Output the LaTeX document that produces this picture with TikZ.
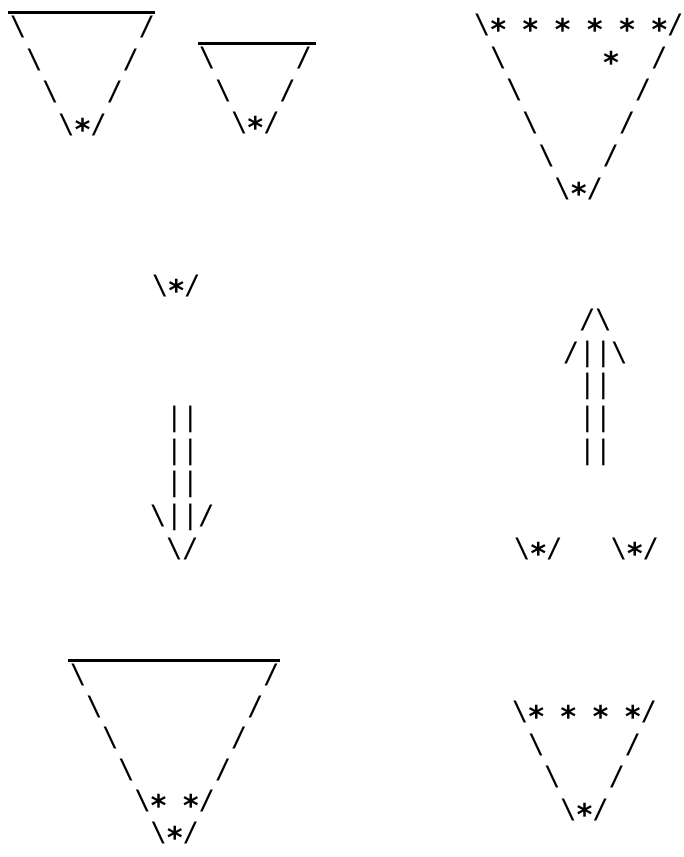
\documentclass[tikz,border=0pt]{standalone}
\usepackage{fontspec}
\usepackage{tikz}
\newfontfamily\asciifont{DejaVu Sans Mono}
\newcommand\bsl{\textbackslash}
\newcommand\astr{\makebox[16.1pt]{\raisebox{-7pt}[0pt][0pt]{\bfseries\fontsize{30}{30}\selectfont *}}}

\begin{document}
\begin{tikzpicture}[
    x=1pt, y=-1pt,
    glyphs/.style={font=\asciifont\fontsize{26.75}{32}\selectfont,
                   inner sep=0pt, anchor=base west,
                   xshift=-8.05pt, yshift=-8.5pt},
    grid/.style={x=16.1pt, y=-32.7pt},
    lid/.style={line width=3pt}
  ]
  \useasboundingbox (0,0) rectangle (684,857);

  % --- Arriba izquierda: dos conos con tapa ---
  \begin{scope}[shift={(18pt,-27pt)}, grid]
    \node[glyphs] (bigA1) at (0,0) {\bsl~~~~~~~/};
    \node[glyphs] (bigA2) at (1,1) {\bsl~~~~~/};
    \node[glyphs] (bigA3) at (2,2) {\bsl~~~/};
    \node[glyphs] (bigA4) at (3,3) {\bsl\astr/};
  \end{scope}
  \draw[lid] (8,12) -- (155,12);

  \begin{scope}[shift={(207pt,-58pt)}, grid]
    \node[glyphs] (smlB1) at (0,0) {\bsl~~~~~/};
    \node[glyphs] (smlB2) at (1,1) {\bsl~~~/};
    \node[glyphs] (smlB3) at (2,2) {\bsl\astr/};
  \end{scope}
  \draw[lid] (198,43) -- (316,43);

  % --- Arriba derecha: cono lleno ---
  \begin{scope}[shift={(482pt,-25pt)}, grid]
    \node[glyphs] (fullC1) at (0,0) {\bsl\astr~\astr~\astr~\astr~\astr~\astr/};
    \node[glyphs] (fullC2) at (1,1) {\bsl~~~~~~\astr~~/};
    \node[glyphs] (fullC3) at (2,2) {\bsl~~~~~~~/};
    \node[glyphs] (fullC4) at (3,3) {\bsl~~~~~/};
    \node[glyphs] (fullC5) at (4,4) {\bsl~~~/};
    \node[glyphs] (fullC6) at (5,5) {\bsl\astr/};
  \end{scope}

  % --- Centro izquierda: cono suelto y flecha hacia abajo ---
  \begin{scope}[shift={(160pt,-286pt)}, grid]
    \node[glyphs] (lone) at (0,0) {\bsl\astr/};
  \end{scope}

  \begin{scope}[shift={(158pt,-418pt)}, grid]
    \node[glyphs] (down1) at (1,0) {||};
    \node[glyphs] (down2) at (1,1) {||};
    \node[glyphs] (down3) at (1,2) {||};
    \node[glyphs] (down4) at (0,3) {\bsl||/};
    \node[glyphs] (down5) at (1,4) {\bsl/};
  \end{scope}

  % --- Centro derecha: flecha hacia arriba y dos conos ---
  \begin{scope}[shift={(571pt,-320pt)}, grid]
    \node[glyphs] (up1) at (1,0) {/\bsl};
    \node[glyphs] (up2) at (0,1) {/||\bsl};
    \node[glyphs] (up3) at (1,2) {||};
    \node[glyphs] (up4) at (1,3) {||};
    \node[glyphs] (up5) at (1,4) {||};
  \end{scope}

  \begin{scope}[shift={(522pt,-549pt)}, grid]
    \node[glyphs] (pair) at (0,0) {\bsl\astr/~~~\bsl\astr/};
  \end{scope}

  % --- Abajo izquierda: cono grande con tapa ---
  \begin{scope}[shift={(78pt,-675pt)}, grid, y=-31.6pt]
    \node[glyphs] (bigH1) at (0,0) {\bsl~~~~~~~~~~~/};
    \node[glyphs] (bigH2) at (1,1) {\bsl~~~~~~~~~/};
    \node[glyphs] (bigH3) at (2,2) {\bsl~~~~~~~/};
    \node[glyphs] (bigH4) at (3,3) {\bsl~~~~~/};
    \node[glyphs] (bigH5) at (4,4) {\bsl\astr~\astr/};
    \node[glyphs] (bigH6) at (5,5) {\bsl\astr/};
  \end{scope}
  \draw[lid] (68,660) -- (280,660);

  % --- Abajo derecha: cono resultante ---
  \begin{scope}[shift={(520pt,-712pt)}, grid]
    \node[glyphs] (endI1) at (0,0) {\bsl\astr~\astr~\astr~\astr/};
    \node[glyphs] (endI2) at (1,1) {\bsl~~~~~/};
    \node[glyphs] (endI3) at (2,2) {\bsl~~~/};
    \node[glyphs] (endI4) at (3,3) {\bsl\astr/};
  \end{scope}
\end{tikzpicture}
\end{document}
